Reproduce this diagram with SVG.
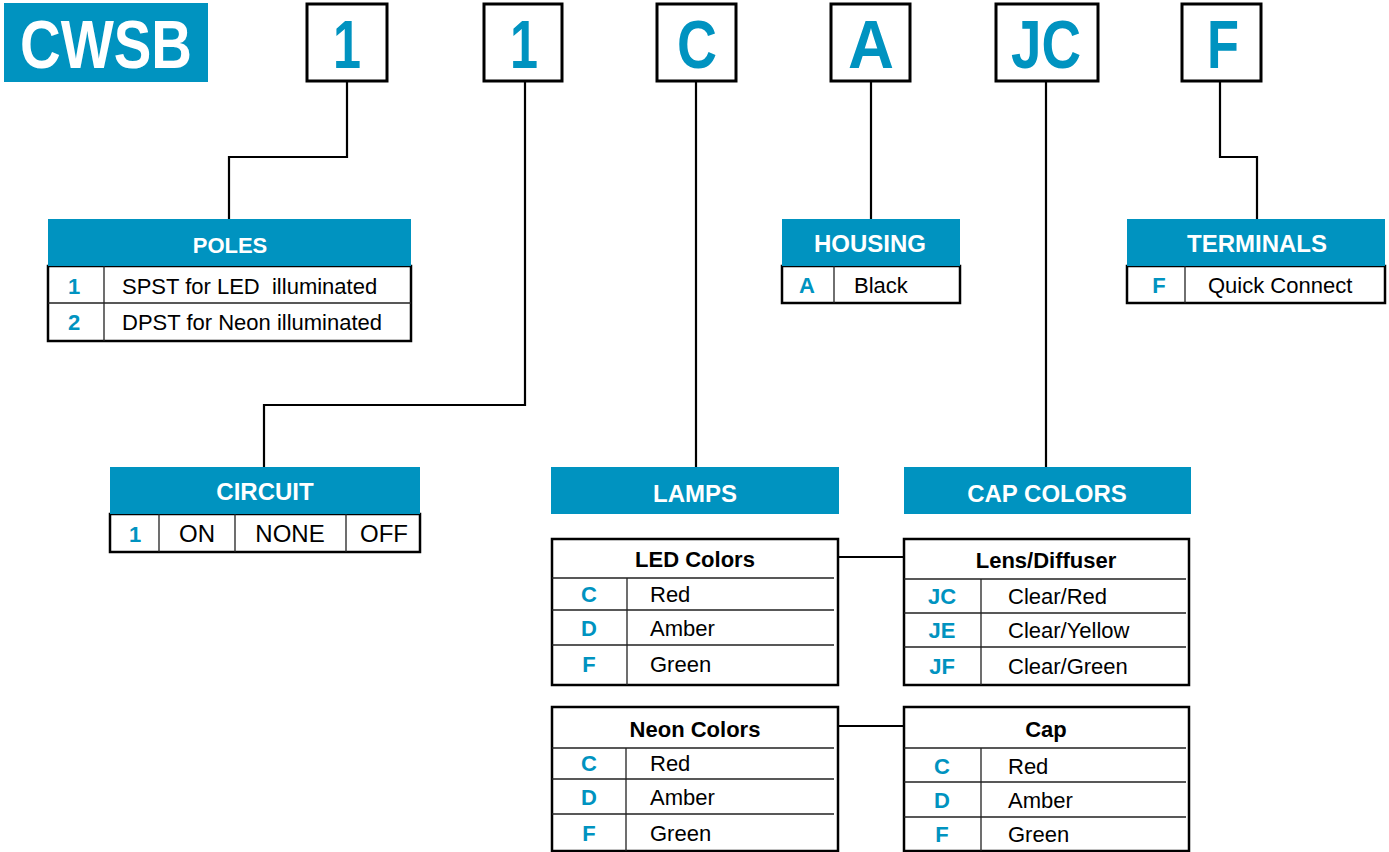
<svg xmlns="http://www.w3.org/2000/svg" width="1389" height="852" viewBox="0 0 1389 852">
<style>
text{font-family:"Liberation Sans",Arial,sans-serif}
.blue{fill:#0093c0}
.ht{font-weight:bold;fill:#fff;text-anchor:middle;font-size:24px}
.big{font-weight:bold;fill:#0093c0;font-size:68px;text-anchor:middle}
.box{fill:#fff;stroke:#000;stroke-width:3}
.tbl{fill:#fff;stroke:#000;stroke-width:2.5}
.rl{stroke:#222;stroke-width:1.3;fill:none}
.code{font-weight:bold;fill:#0093c0;text-anchor:middle;font-size:22px}
.txt{fill:#000;font-size:22px}
.ttl{font-weight:bold;font-size:22px;text-anchor:middle;fill:#000}
.wire{fill:none;stroke:#000;stroke-width:2.2}
</style>

<g id="connectors" class="wire">
<path d="M347,81 V157 H229 V219"/>
<path d="M525,81 V405 H264 V467"/>
<path d="M696,81 V467"/>
<path d="M871,81 V219"/>
<path d="M1046,81 V467"/>
<path d="M1220,81 V157 H1257 V219"/>
<path d="M838,557 H904"/>
<path d="M838,726 H904"/>
</g>

<g id="cwsb">
<rect x="4" y="3" width="204" height="79" class="blue"/>
<text x="106" y="68" font-size="68" font-weight="bold" fill="#fff" text-anchor="middle" textLength="172" lengthAdjust="spacingAndGlyphs">CWSB</text>
</g>

<g id="code-1a"><rect x="307" y="4" width="80" height="77" class="box"/><text x="347" y="68" class="big" textLength="28" lengthAdjust="spacingAndGlyphs">1</text></g>
<g id="code-1b"><rect x="484" y="4" width="78" height="77" class="box"/><text x="524" y="68" class="big" textLength="28" lengthAdjust="spacingAndGlyphs">1</text></g>
<g id="code-c"><rect x="657" y="4" width="79" height="77" class="box"/><text x="697" y="68" class="big" textLength="40" lengthAdjust="spacingAndGlyphs">C</text></g>
<g id="code-a"><rect x="831" y="4" width="79" height="77" class="box"/><text x="871" y="68" class="big" textLength="46" lengthAdjust="spacingAndGlyphs">A</text></g>
<g id="code-jc"><rect x="996" y="4" width="102" height="77" class="box"/><text x="1046" y="68" class="big" textLength="70" lengthAdjust="spacingAndGlyphs">JC</text></g>
<g id="code-f"><rect x="1182" y="4" width="79" height="77" class="box"/><text x="1223" y="68" class="big" textLength="32" lengthAdjust="spacingAndGlyphs">F</text></g>

<g id="poles">
<rect x="48" y="266" width="363" height="75" class="tbl"/>
<rect x="48" y="219" width="363" height="47" class="blue"/>
<text x="230" y="253" class="ht" style="font-size:22px">POLES</text>
<path class="rl" d="M48,303 H411 M104,266 V341"/>
<text x="74" y="294" class="code">1</text><text x="122" y="294" class="txt">SPST for LED&#160; illuminated</text>
<text x="74" y="330" class="code">2</text><text x="122" y="330" class="txt">DPST for Neon illuminated</text>
</g>

<g id="housing">
<rect x="782" y="266" width="178" height="37" class="tbl"/>
<rect x="782" y="219" width="178" height="47" class="blue"/>
<text x="870" y="252" class="ht">HOUSING</text>
<path class="rl" d="M834,266 V303"/>
<text x="807" y="293" class="code">A</text><text x="854" y="293" class="txt">Black</text>
</g>

<g id="terminals">
<rect x="1127" y="266" width="258" height="37" class="tbl"/>
<rect x="1127" y="219" width="258" height="47" class="blue"/>
<text x="1257" y="252" class="ht">TERMINALS</text>
<path class="rl" d="M1185,266 V303"/>
<text x="1159" y="293" class="code">F</text><text x="1208" y="293" class="txt">Quick Connect</text>
</g>

<g id="circuit">
<rect x="110" y="514" width="310" height="38" class="tbl"/>
<rect x="110" y="467" width="310" height="47" class="blue"/>
<text x="265" y="500" class="ht">CIRCUIT</text>
<path class="rl" d="M159,514 V552 M235,514 V552 M346,514 V552"/>
<text x="135" y="542" class="code">1</text>
<text x="197" y="542" class="txt" text-anchor="middle" style="font-size:24px">ON</text>
<text x="290" y="542" class="txt" text-anchor="middle" style="font-size:24px">NONE</text>
<text x="384" y="542" class="txt" text-anchor="middle" style="font-size:24px">OFF</text>
</g>

<g id="lamps">
<rect x="551" y="467" width="288" height="47" class="blue"/>
<text x="695" y="502" class="ht">LAMPS</text>
</g>

<g id="cap-colors">
<rect x="904" y="467" width="287" height="47" class="blue"/>
<text x="1047" y="502" class="ht">CAP COLORS</text>
</g>

<g id="led-colors">
<rect x="552" y="539" width="286" height="146" class="tbl"/>
<path class="rl" d="M552,578 H834 M552,610 H834 M552,645 H834 M627,578 V685"/>
<text x="695" y="567" class="ttl">LED Colors</text>
<text x="589" y="602" class="code">C</text><text x="650" y="602" class="txt">Red</text>
<text x="589" y="636" class="code">D</text><text x="650" y="636" class="txt">Amber</text>
<text x="589" y="672" class="code">F</text><text x="650" y="672" class="txt">Green</text>
</g>

<g id="lens-diffuser">
<rect x="904" y="539" width="285" height="146" class="tbl"/>
<path class="rl" d="M904,579 H1186 M904,613 H1186 M904,647 H1186 M981,579 V685"/>
<text x="1046" y="568" class="ttl">Lens/Diffuser</text>
<text x="942" y="604" class="code">JC</text><text x="1008" y="604" class="txt">Clear/Red</text>
<text x="942" y="638" class="code">JE</text><text x="1008" y="638" class="txt">Clear/Yellow</text>
<text x="942" y="674" class="code">JF</text><text x="1008" y="674" class="txt">Clear/Green</text>
</g>

<g id="neon-colors">
<rect x="552" y="707" width="286" height="144" class="tbl"/>
<path class="rl" d="M552,748 H834 M552,779 H834 M552,814 H834 M626,748 V851"/>
<text x="695" y="737" class="ttl">Neon Colors</text>
<text x="589" y="771" class="code">C</text><text x="650" y="771" class="txt">Red</text>
<text x="589" y="805" class="code">D</text><text x="650" y="805" class="txt">Amber</text>
<text x="589" y="841" class="code">F</text><text x="650" y="841" class="txt">Green</text>
</g>

<g id="cap">
<rect x="904" y="707" width="285" height="144" class="tbl"/>
<path class="rl" d="M904,748 H1186 M904,782 H1186 M904,817 H1186 M981,748 V851"/>
<text x="1046" y="737" class="ttl">Cap</text>
<text x="942" y="774" class="code">C</text><text x="1008" y="774" class="txt">Red</text>
<text x="942" y="808" class="code">D</text><text x="1008" y="808" class="txt">Amber</text>
<text x="942" y="842" class="code">F</text><text x="1008" y="842" class="txt">Green</text>
</g>
</svg>
